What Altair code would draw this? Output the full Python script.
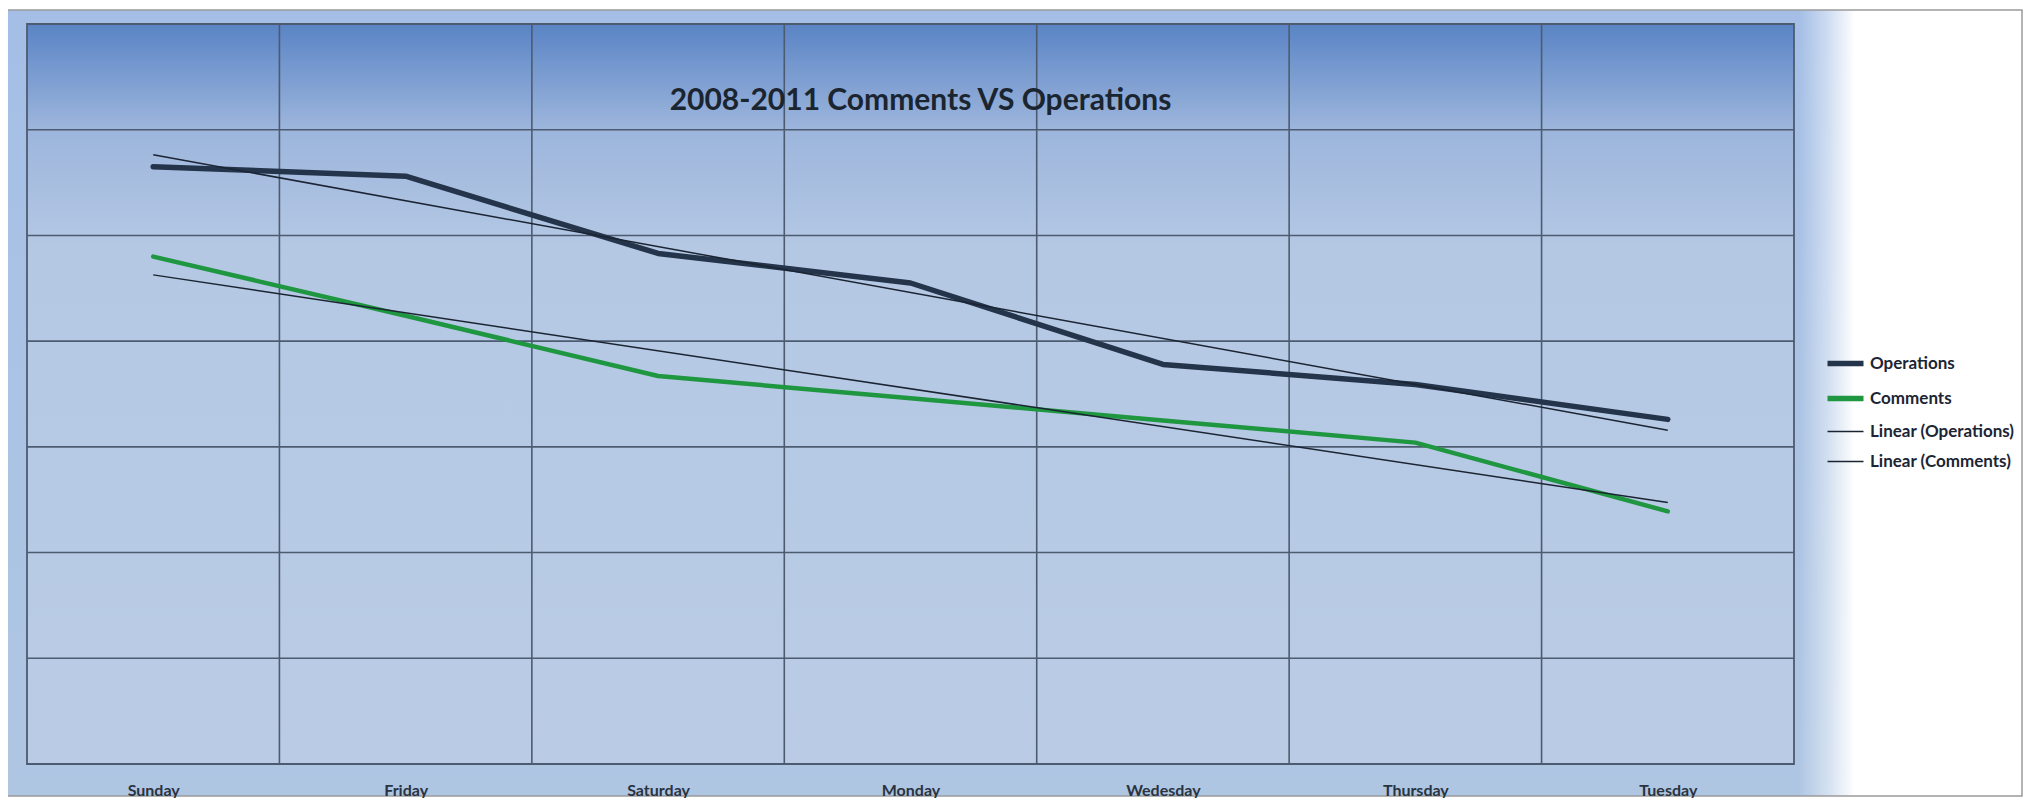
import json
import altair as alt
import pandas as pd

# ---- data ----
days = ["Sunday", "Friday", "Saturday", "Monday", "Wedesday", "Thursday", "Tuesday"]
operations = [5.65, 5.56, 4.83, 4.55, 3.78, 3.59, 3.26]
comments = [4.80, 4.24, 3.67, 3.46, 3.25, 3.04, 2.39]
series_names = ["Operations", "Comments"]
legend_order = ["Operations", "Comments", "Linear (Operations)", "Linear (Comments)"]
title_text = "2008-2011 Comments VS Operations"
grid_y = [1, 2, 3, 4, 5, 6]
grid_x = [i + 0.5 for i in range(len(days) - 1)]

W, H = 1767, 740
FONT = "Lato"

rows = []
for i, d in enumerate(days):
    rows.append({"idx": i, "day": d, "series": "Operations", "value": operations[i]})
    rows.append({"idx": i, "day": d, "series": "Comments", "value": comments[i]})
df = pd.DataFrame(rows)
one = pd.DataFrame({"a": [0]})

xscale = alt.Scale(domain=[-0.5, len(days) - 0.5], nice=False, zero=False)
yscale = alt.Scale(domain=[0, 7], nice=False, zero=False)

color_scale = alt.Scale(domain=legend_order,
                        range=["#24344a", "#1f9640", "#1b2432", "#1b2432"])

GRID = "#4d5b70"

# frame background (light blue)
frame = alt.Chart(one).mark_rect(
    color=alt.LinearGradient(
        gradient="linear", x1=0, x2=0, y1=0, y2=1,
        stops=[alt.GradientStop(color="#a4bee6", offset=0),
               alt.GradientStop(color="#abc3e4", offset=0.5),
               alt.GradientStop(color="#afc6e3", offset=1)])
).encode(x=alt.value(-20), x2=alt.value(1826), y=alt.value(-14), y2=alt.value(772))

fade = alt.Chart(one).mark_rect(
    color=alt.LinearGradient(
        gradient="linear", x1=0, x2=1, y1=0, y2=0,
        stops=[alt.GradientStop(color="rgba(255,255,255,0)", offset=0),
               alt.GradientStop(color="rgba(255,255,255,0.45)", offset=0.5),
               alt.GradientStop(color="rgba(255,255,255,1)", offset=1)])
).encode(x=alt.value(1772), x2=alt.value(1828), y=alt.value(-14), y2=alt.value(772))

outer = alt.Chart(one).mark_rect(
    fill="transparent", stroke="#9a9a9a", strokeWidth=1.5
).encode(x=alt.value(-20), x2=alt.value(1995), y=alt.value(-14), y2=alt.value(772))

plotbg = alt.Chart(one).mark_rect(
    color=alt.LinearGradient(
        gradient="linear", x1=0, x2=0, y1=0, y2=1,
        stops=[alt.GradientStop(color="#5a84c5", offset=0),
               alt.GradientStop(color="#9cb5dc", offset=0.14),
               alt.GradientStop(color="#b4c8e4", offset=0.3),
               alt.GradientStop(color="#bacce5", offset=1)])
).encode(x=alt.value(0), x2=alt.value(W), y=alt.value(0), y2=alt.value(H))

xaxis = alt.Axis(
    values=list(range(len(days))),
    labelExpr=json.dumps(days) + "[round(datum.value)]",
    labelFlush=False, labelAlign="center",
    labelBaseline="middle", labelPadding=26, tickSize=0, ticks=False,
    grid=False, domain=False, title=None, labelFont=FONT, labelFontSize=16,
    labelFontWeight="bold", labelColor="#2a3340", zindex=1,
)

hgrid = alt.Chart(pd.DataFrame({"g": grid_y})).mark_rule(
    color=GRID, strokeWidth=1.6
).encode(y=alt.Y("g:Q", scale=yscale, axis=None))

vgrid = alt.Chart(pd.DataFrame({"g": grid_x})).mark_rule(
    color=GRID, strokeWidth=1.6
).encode(x=alt.X("g:Q", scale=xscale, axis=xaxis))

border = alt.Chart(one).mark_rect(
    fill="transparent", stroke=GRID, strokeWidth=1.8
).encode(x=alt.value(0), x2=alt.value(W), y=alt.value(0), y2=alt.value(H))

legend = alt.Legend(
    title=None, orient="none", legendX=1810, legendY=331,
    symbolType="stroke", symbolSize=1296, labelFont=FONT, labelFontSize=17,
    labelFontWeight="bold", labelColor="#1c2533", labelOffset=16, rowPadding=12,
    zindex=1,
    symbolStrokeWidth=alt.ExprRef(
        expr="indexof(" + json.dumps(series_names) + ", datum.value) >= 0 ? 5.5 : 1.6"),
)

enc = dict(
    x=alt.X("idx:Q", scale=xscale, axis=xaxis),
    y=alt.Y("value:Q", scale=yscale, axis=None),
    color=alt.Color("series:N", scale=color_scale, legend=legend),
    order=alt.Order("idx:Q"),
)

ops_line = alt.Chart(df).transform_filter(
    alt.datum.series == series_names[0]
).mark_line(strokeWidth=5.5, strokeCap="round", strokeJoin="round").encode(**enc)

com_line = alt.Chart(df).transform_filter(
    alt.datum.series == series_names[1]
).mark_line(strokeWidth=4.5, strokeCap="round", strokeJoin="round").encode(**enc)

trend = alt.Chart(df).transform_regression(
    "idx", "value", groupby=["series"]
).transform_calculate(
    series="'Linear (' + datum.series + ')'"
).mark_line(strokeWidth=1.5).encode(
    x=alt.X("idx:Q", scale=xscale, axis=xaxis),
    y=alt.Y("value:Q", scale=yscale, axis=None),
    color=alt.Color("series:N", scale=color_scale, legend=legend),
)

chart = alt.layer(
    frame, fade, outer, plotbg, hgrid, vgrid, border, ops_line, com_line, trend
).properties(
    width=W, height=H,
    padding={"left": 19, "top": 16, "right": 232, "bottom": 34},
    autosize=alt.AutoSizeParams(type="none"),
    background="white",
    title=alt.TitleParams(
        title_text, font=FONT, fontSize=30, fontWeight="bold", color="#1b2530",
        anchor="middle", offset=0, dy=131, dx=10, baseline="alphabetic",
        zindex=1,
    ),
).configure_view(stroke=None).configure(font=FONT)

chart.save("out.html", embed_options={"renderer": "svg", "actions": False})
